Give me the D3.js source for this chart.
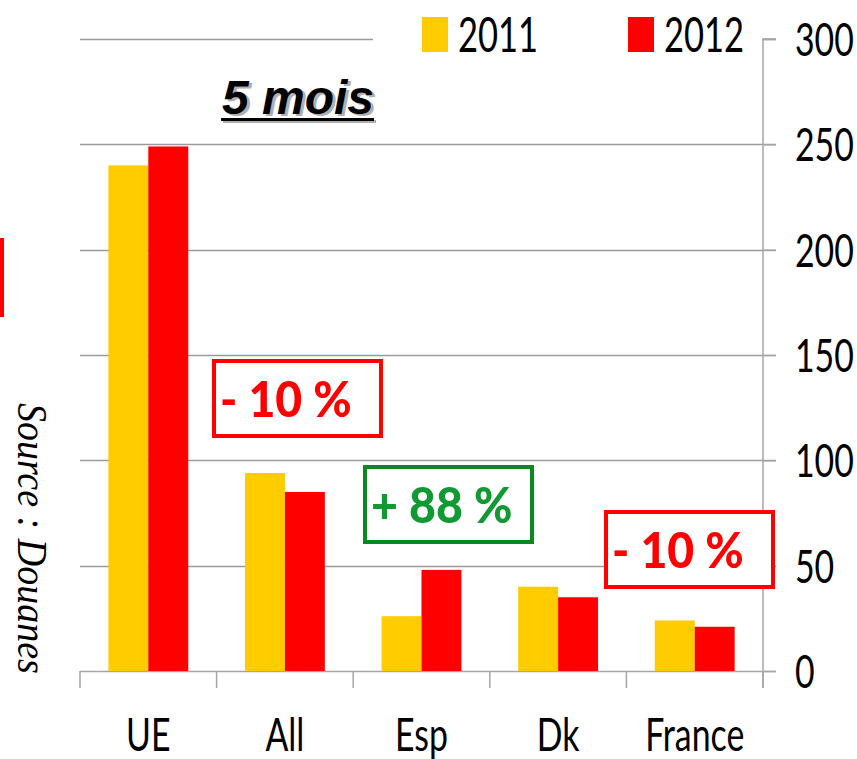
<!DOCTYPE html>
<html>
<head>
<meta charset="utf-8">
<script src="https://cdn.jsdelivr.net/npm/d3@7"></script>
<style>
  html, body { margin: 0; padding: 0; background: #fff; }
  svg { display: block; }
</style>
</head>
<body>
<svg id="chart" width="857" height="759"></svg>
<script>
// chart data
const categories = ["UE", "All", "Esp", "Dk", "France"];
const seriesNames = ["2011", "2012"];
const values2011 = [240, 94, 26, 40, 24];
const values2012 = [249, 85, 48, 35, 21];
const yTicks = [0, 50, 100, 150, 200, 250, 300];
const notes = [
  { text: "- 10 %", cat: "All", kind: "down" },
  { text: "+ 88 %", cat: "Esp", kind: "up" },
  { text: "- 10 %", cat: "France", kind: "down" }
];

const colors = { "2011": "#ffcc00", "2012": "#ff0000" };
const svg = d3.select("#chart");
const plotLeft = 80, plotRight = 763, plotTop = 39, plotBottom = 671;
const narrow = 0.72; // text in the picture is squeezed sideways

const x = d3.scaleBand().domain(categories).range([plotLeft, plotRight]).paddingInner(0).paddingOuter(0);
const x1 = d3.scaleBand().domain(seriesNames).range([0, x.bandwidth()]).paddingInner(0).paddingOuter(0.71);
const y = d3.scaleLinear().domain([0, 300]).range([plotBottom, plotTop]);

const rows = categories.map((c, i) => ({ cat: c, "2011": values2011[i], "2012": values2012[i] }));

function squeezed(g, tx, ty, txt, size, anchor, sx) {
  return g.append("text")
    .attr("transform", `translate(${tx},${ty}) scale(${sx || narrow},1)`)
    .attr("font-family", "Lato, 'Open Sans', sans-serif")
    .attr("font-size", size)
    .attr("text-anchor", anchor || "start")
    .text(txt);
}

// gridlines
svg.append("g")
  .selectAll("line")
  .data(yTicks.filter(t => t > 0))
  .join("line")
  .attr("x1", plotLeft).attr("x2", plotRight + 13)
  .attr("y1", d => Math.round(y(d)) + 0.5).attr("y2", d => Math.round(y(d)) + 0.5)
  .attr("stroke", "#9a9a9a").attr("stroke-width", 1.5);

// right axis
const axisR = svg.append("g")
  .attr("transform", `translate(${plotRight},0)`)
  .call(d3.axisRight(y).tickValues(yTicks).tickSize(13).tickPadding(19).tickFormat(d3.format("d")));
axisR.select(".domain").attr("stroke", "#a6a6a6").attr("stroke-width", 1.5).attr("d", `M13,${y(300)}H0V${plotBottom + 17}`);
axisR.selectAll(".tick line").attr("stroke", "#a6a6a6").attr("stroke-width", 1.5);
axisR.selectAll(".tick text").remove();
yTicks.forEach(t => {
  squeezed(svg, plotRight + 32, y(t) + 17, String(t), 47).attr("fill", "#000");
});

// bottom axis
const axisB = svg.append("g").attr("transform", `translate(0,${plotBottom})`);
axisB.append("line").attr("x1", plotLeft).attr("x2", plotRight + 13).attr("y1", 0.5).attr("y2", 0.5)
  .attr("stroke", "#a6a6a6").attr("stroke-width", 1.5);
axisB.selectAll(".sep")
  .data(categories.concat(["end"]))
  .join("line")
  .attr("x1", (d, i) => i < categories.length ? x(d) : plotRight)
  .attr("x2", (d, i) => i < categories.length ? x(d) : plotRight)
  .attr("y1", 0).attr("y2", 17)
  .attr("stroke", "#a6a6a6").attr("stroke-width", 1.5);
categories.forEach(c => {
  squeezed(svg, x(c) + x.bandwidth() / 2, 751, c, 47, "middle").attr("fill", "#000");
});

// bars
svg.append("g")
  .selectAll("g")
  .data(rows)
  .join("g")
  .attr("transform", d => `translate(${x(d.cat)},0)`)
  .selectAll("rect")
  .data(d => seriesNames.map(s => ({ s, v: d[s] })))
  .join("rect")
  .attr("x", d => x1(d.s))
  .attr("width", x1.bandwidth())
  .attr("y", d => y(d.v))
  .attr("height", d => plotBottom - y(d.v))
  .attr("fill", d => colors[d.s]);

// legend (white backing hides top gridline)
const legend = svg.append("g");
legend.append("rect").attr("x", 373).attr("y", 10).attr("width", plotRight - 374).attr("height", 50).attr("fill", "#fff");
const legX = [422, 628];
seriesNames.forEach((s, i) => {
  legend.append("rect").attr("x", legX[i]).attr("y", 17).attr("width", 26).attr("height", 35).attr("fill", colors[s]);
  squeezed(legend, legX[i] + 36, 52, s, 48).attr("fill", "#000");
});

// title
const title = svg.append("g").attr("font-family", "'Liberation Sans', Arial, sans-serif")
  .attr("font-weight", "bold").attr("font-style", "italic").attr("font-size", 48);
title.append("text").attr("x", 225).attr("y", 116).attr("fill", "#b0b0b0").text("5 mois");
title.append("rect").attr("x", 223).attr("y", 120).attr("width", 153).attr("height", 3).attr("fill", "#b0b0b0");
title.append("text").attr("x", 222).attr("y", 114).attr("fill", "#000").text("5 mois");
title.append("rect").attr("x", 221).attr("y", 118).attr("width", 153).attr("height", 3).attr("fill", "#000");

// annotation boxes
const noteBox = { "All": [212, 359], "Esp": [363, 465], "France": [604, 510] };
const noteCol = { down: ["#ff0000", "#ff0000"], up: ["#0a8a1e", "#119933"] };
notes.forEach(n => {
  const [bx, by] = noteBox[n.cat];
  const g = svg.append("g");
  g.append("rect").attr("x", bx + 2).attr("y", by + 2).attr("width", 167).attr("height", 75)
    .attr("fill", "#fff").attr("stroke", noteCol[n.kind][0]).attr("stroke-width", 4);
  squeezed(g, bx + 8, by + 58, n.text, 50, "start", 0.93)
    .attr("font-weight", 900).attr("fill", noteCol[n.kind][1]);
});

// side marks
svg.append("rect").attr("x", 0).attr("y", 238).attr("width", 4).attr("height", 79).attr("fill", "#ff0000");
svg.append("text")
  .attr("transform", "translate(18,403) rotate(90) scale(1,1.1)")
  .attr("font-family", "'Liberation Serif', 'Times New Roman', serif")
  .attr("font-style", "italic").attr("font-size", 38)
  .text("Source : Douanes");
</script>
</body>
</html>
